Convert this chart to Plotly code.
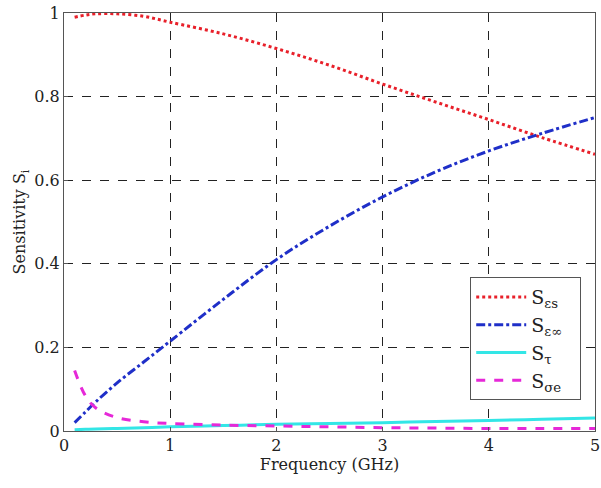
import plotly.graph_objects as go

freq = [0.1, 0.2, 0.3, 0.5, 0.75, 1, 1.5, 2, 2.5, 3, 3.5, 4, 4.5, 5]
s_eps_s = [0.99, 0.995, 0.998, 0.998, 0.992, 0.978, 0.95, 0.915, 0.875, 0.83, 0.787, 0.745, 0.702, 0.662]
s_eps_inf = [0.02, 0.045, 0.07, 0.115, 0.165, 0.215, 0.315, 0.41, 0.49, 0.56, 0.62, 0.67, 0.712, 0.75]
s_tau = [0.003, 0.004, 0.005, 0.006, 0.008, 0.01, 0.013, 0.016, 0.018, 0.02, 0.023, 0.025, 0.028, 0.031]
s_sigma = [0.145, 0.085, 0.055, 0.032, 0.022, 0.018, 0.014, 0.012, 0.01, 0.008, 0.007, 0.006, 0.006, 0.006]

names = ["S<sub>εs</sub>  ", "S<sub>ε∞</sub>  ", "S<sub>τ</sub>  ", "S<sub>σe</sub>  "]
series = [s_eps_s, s_eps_inf, s_tau, s_sigma]
colors = ["#e8202a", "#1f2fc8", "#33e6e6", "#e628d8"]
dashes = ["dot", "dashdot", "solid", "dash"]

fig = go.Figure()
for n, s, c, d in zip(names, series, colors, dashes):
    fig.add_trace(go.Scatter(x=freq, y=s, mode="lines", name=n,
                             line=dict(color=c, dash=d, width=3, shape="spline")))

font = "DejaVu Serif"
axis_common = dict(showline=True, mirror=True, linecolor="#555", linewidth=1,
                   showgrid=True, gridcolor="#222", griddash="dash", gridwidth=1,
                   zeroline=False, ticks="inside", ticklen=4, tickcolor="#555",
                   ticklabeloverflow="allow",
                   tickfont=dict(family=font, size=16, color="#222"))

fig.update_layout(
    width=601, height=488,
    margin=dict(l=64, r=1, t=13, b=57),
    plot_bgcolor="white", paper_bgcolor="white",
    font=dict(family=font, color="#222"),
    xaxis=dict(range=[0, 5], dtick=1, title=dict(text="Frequency (GHz)", font=dict(family=font, size=16), standoff=2), **axis_common),
    yaxis=dict(range=[0, 1], dtick=0.2, tickformat="~g", title=dict(text="Sensitivity S<sub>i</sub>", font=dict(family=font, size=16), standoff=4), **axis_common),
    legend=dict(x=0.765, y=0.368, xanchor="left", yanchor="top", bgcolor="white",
                bordercolor="#555", borderwidth=1, font=dict(family=font, size=19),
                tracegroupgap=0, itemwidth=50),
    showlegend=True,
)
fig.write_html("out.html")
